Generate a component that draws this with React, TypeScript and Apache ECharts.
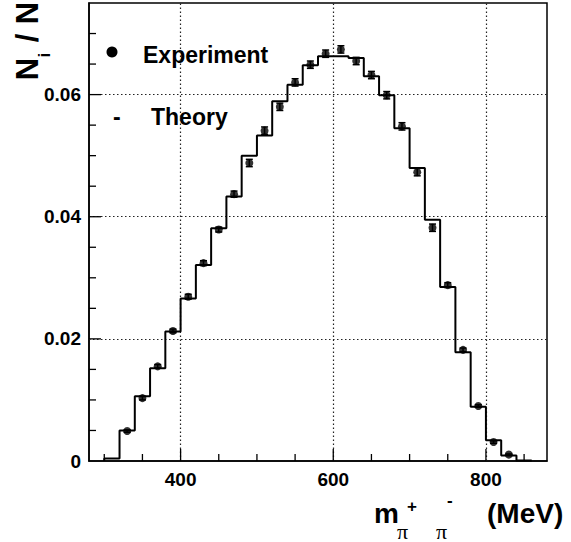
import React, { useEffect, useRef } from "react";
import * as echarts from "echarts";

// ---- data ----
const binWidth = 20;
const binCenters = [
  310, 330, 350, 370, 390, 410, 430, 450, 470, 490, 510, 530, 550, 570,
  590, 610, 630, 650, 670, 690, 710, 730, 750, 770, 790, 810, 830, 850,
];
const theory = [
  0.0004, 0.005, 0.0106, 0.0152, 0.0212, 0.0266, 0.0321, 0.0381, 0.0433, 0.05,
  0.0533, 0.0589, 0.0616, 0.0648, 0.0663, 0.0663, 0.066, 0.063, 0.0599, 0.0545,
  0.048, 0.0395, 0.0285, 0.0178, 0.0089, 0.0034, 0.0009, 0.0001,
];
const expMass = [
  330, 350, 370, 390, 410, 430, 450, 470, 490, 510, 530, 550, 570, 590, 610,
  630, 650, 670, 690, 710, 730, 750, 770, 790, 810, 830,
];
const expValues = [
  0.0049, 0.0103, 0.0155, 0.0213, 0.0269, 0.0324, 0.0379, 0.0437, 0.0488,
  0.0541, 0.058, 0.062, 0.0649, 0.0667, 0.0674, 0.0655, 0.0632, 0.0599, 0.0548,
  0.0473, 0.0382, 0.0288, 0.0182, 0.009, 0.0031, 0.00105,
];
const expErrors = [
  0.0002, 0.0003, 0.0003, 0.0003, 0.0004, 0.0004, 0.0004, 0.0005, 0.0006,
  0.0006, 0.0006, 0.0006, 0.0006, 0.0006, 0.0006, 0.0006, 0.0006, 0.0006,
  0.0006, 0.0006, 0.0006, 0.0004, 0.0003, 0.0002, 0.0002, 0.0001,
];
const xMajorTicks = [400, 600, 800];
const xMinorTicks = [300, 350, 450, 500, 550, 650, 700, 750, 850];
const yLabelTicks = [0, 0.02, 0.04, 0.06];
const yMajorTicks = [0.02, 0.04, 0.06];
const yMinorTicks = [
  0.005, 0.01, 0.015, 0.025, 0.03, 0.035, 0.045, 0.05, 0.055, 0.065, 0.07,
];
const xRange = [280, 880];
const yRange = [0, 0.075];

const SANS = "'Liberation Sans', Arial, Helvetica, sans-serif";
const SERIF = "'Liberation Serif', 'DejaVu Serif', serif";

const MAJOR_LEN = 12;
const MINOR_LEN = 7;

export default function App() {
  const ref = useRef<HTMLDivElement>(null);
  useEffect(() => {
    if (!ref.current) return;
    const chart = echarts.init(ref.current, null, { renderer: "svg" });

    const histData: number[][] = [];
    histData.push([binCenters[0] - binWidth / 2, 0]);
    binCenters.forEach((c, i) => histData.push([c - binWidth / 2, theory[i]]));
    histData.push([binCenters[binCenters.length - 1] + binWidth / 2, 0]);

    const expData = expMass.map((m, i) => [m, expValues[i], expErrors[i]]);

    const gridLineStyle = { color: "#222", width: 1.2, type: [1.5, 2.5] as any };

    const titleGraphics: any[] = [
      // legend
      { type: "circle", shape: { cx: 112, cy: 52, r: 5.5 }, style: { fill: "#000" } },
      {
        type: "text",
        x: 143,
        y: 55,
        style: { text: "Experiment", font: `bold 23px ${SANS}`, fill: "#000", verticalAlign: "middle" },
      },
      {
        type: "text",
        x: 113,
        y: 117,
        style: { text: "-", font: `bold 23px ${SANS}`, fill: "#000", verticalAlign: "middle" },
      },
      {
        type: "text",
        x: 151,
        y: 117,
        style: { text: "Theory", font: `bold 23px ${SANS}`, fill: "#000", verticalAlign: "middle" },
      },
      // y-axis title: N_i / N (rotated)
      {
        type: "text",
        x: 27,
        y: 69,
        rotation: Math.PI / 2,
        style: { text: "N", font: `bold 31px ${SANS}`, fill: "#000", align: "center", verticalAlign: "middle" },
      },
      {
        type: "text",
        x: 44,
        y: 55,
        rotation: Math.PI / 2,
        style: { text: "i", font: `bold 16px ${SANS}`, fill: "#000", align: "center", verticalAlign: "middle" },
      },
      {
        type: "text",
        x: 27,
        y: 38,
        rotation: Math.PI / 2,
        style: { text: "/", font: `bold 31px ${SANS}`, fill: "#000", align: "center", verticalAlign: "middle" },
      },
      {
        type: "text",
        x: 27,
        y: 13,
        rotation: Math.PI / 2,
        style: { text: "N", font: `bold 31px ${SANS}`, fill: "#000", align: "center", verticalAlign: "middle" },
      },
      // x-axis title: m_{π+ π-} (MeV)
      {
        type: "text",
        x: 374,
        y: 513,
        style: { text: "m", font: `bold 28px ${SANS}`, fill: "#000", verticalAlign: "middle" },
      },
      {
        type: "text",
        x: 397,
        y: 531,
        style: { text: "π", font: `22px ${SERIF}`, fill: "#000", verticalAlign: "middle" },
      },
      {
        type: "text",
        x: 407,
        y: 506,
        style: { text: "+", font: `bold 17px ${SANS}`, fill: "#000", verticalAlign: "middle" },
      },
      {
        type: "text",
        x: 436,
        y: 531,
        style: { text: "π", font: `22px ${SERIF}`, fill: "#000", verticalAlign: "middle" },
      },
      {
        type: "text",
        x: 447,
        y: 500,
        style: { text: "-", font: `bold 17px ${SANS}`, fill: "#000", verticalAlign: "middle" },
      },
      {
        type: "text",
        x: 487,
        y: 513,
        style: { text: "(MeV)", font: `bold 28px ${SANS}`, fill: "#000", verticalAlign: "middle" },
      },
    ];

    chart.setOption({
      animation: false,
      backgroundColor: "#fff",
      grid: {
        left: 89,
        right: 24,
        top: 3,
        bottom: 81,
        show: true,
        borderColor: "#000",
        borderWidth: 1.5,
        backgroundColor: "transparent",
      },
      xAxis: {
        type: "value",
        min: xRange[0],
        max: xRange[1],
        splitLine: { show: false },
        axisLine: { show: true, lineStyle: { color: "#000", width: 1.5 } },
        axisTick: { show: false },
        axisLabel: {
          show: true,
          customValues: xMajorTicks,
          margin: 9,
          color: "#000",
          fontFamily: SANS,
          fontWeight: "bold",
          fontSize: 19,
        },
      },
      yAxis: {
        type: "value",
        min: yRange[0],
        max: yRange[1],
        splitLine: { show: false },
        axisLine: { show: true, lineStyle: { color: "#000", width: 1.5 } },
        axisTick: { show: false },
        axisLabel: {
          show: true,
          customValues: yLabelTicks,
          margin: 8,
          color: "#000",
          fontFamily: SANS,
          fontWeight: "bold",
          fontSize: 19,
          formatter: (v: number) => (v === 0 ? "0" : v.toFixed(2)),
        },
      },
      series: [
        {
          name: "Theory",
          type: "line",
          step: "end",
          data: histData,
          symbol: "none",
          lineStyle: { color: "#000", width: 2 },
          z: 3,
          markLine: {
            silent: true,
            symbol: ["none", "none"],
            label: { show: false },
            lineStyle: gridLineStyle,
            data: [
              ...xMajorTicks.map((v) => ({ xAxis: v })),
              ...yMajorTicks.map((v) => ({ yAxis: v })),
            ],
            z: 1,
          },
        },
        {
          name: "Experiment errors",
          type: "custom",
          data: expData,
          encode: { x: 0, y: 1 },
          z: 4,
          renderItem: (params: any, api: any) => {
            const x = api.value(0);
            const y = api.value(1);
            const e = api.value(2);
            const top = api.coord([x, y + e]);
            const bot = api.coord([x, y - e]);
            const cw = 3.5;
            const style = { stroke: "#000", lineWidth: 1.5 };
            return {
              type: "group",
              children: [
                { type: "line", shape: { x1: top[0], y1: top[1], x2: bot[0], y2: bot[1] }, style },
                { type: "line", shape: { x1: top[0] - cw, y1: top[1], x2: top[0] + cw, y2: top[1] }, style },
                { type: "line", shape: { x1: bot[0] - cw, y1: bot[1], x2: bot[0] + cw, y2: bot[1] }, style },
              ],
            };
          },
        },
        {
          name: "Experiment",
          type: "scatter",
          data: expData.map((d) => [d[0], d[1]]),
          symbol: "circle",
          symbolSize: 8,
          itemStyle: { color: "#000" },
          z: 5,
        },
      ],
      graphic: titleGraphics,
    });

    // axis ticks, placed through the chart's own scales
    const tickStyle = { stroke: "#000", lineWidth: 1.3 };
    const tickGraphics: any[] = [];
    const addX = (v: number, len: number) => {
      const p = chart.convertToPixel({ gridIndex: 0 }, [v, yRange[0]]) as number[];
      tickGraphics.push({
        type: "line",
        z: 10,
        shape: { x1: p[0], y1: p[1], x2: p[0], y2: p[1] - len },
        style: tickStyle,
      });
    };
    const addY = (v: number, len: number) => {
      const p = chart.convertToPixel({ gridIndex: 0 }, [xRange[0], v]) as number[];
      tickGraphics.push({
        type: "line",
        z: 10,
        shape: { x1: p[0], y1: p[1], x2: p[0] + len, y2: p[1] },
        style: tickStyle,
      });
    };
    xMajorTicks.forEach((v) => addX(v, MAJOR_LEN));
    xMinorTicks.forEach((v) => addX(v, MINOR_LEN));
    yMajorTicks.forEach((v) => addY(v, MAJOR_LEN));
    yMinorTicks.forEach((v) => addY(v, MINOR_LEN));
    chart.setOption({ graphic: [...titleGraphics, ...tickGraphics] });

    return () => chart.dispose();
  }, []);
  return (
    <div
      ref={ref}
      style={{ position: "fixed", left: 0, top: 0, width: 571, height: 542 }}
    />
  );
}
